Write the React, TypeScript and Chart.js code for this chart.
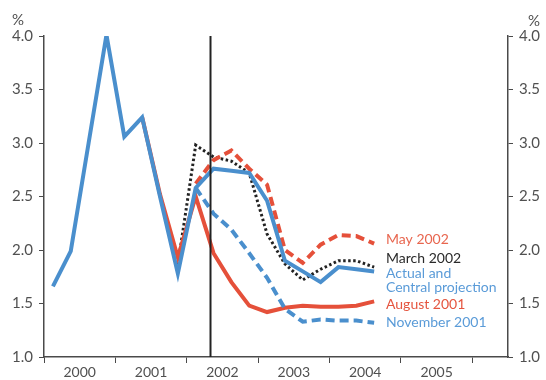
import React, { useEffect, useRef } from 'react';
import { Chart, registerables } from 'chart.js';

Chart.register(...registerables);

// 26 quarterly slots: 2000 Q1 ... 2006 Q2
const QUARTERS = [
  '2000Q1', '2000Q2', '2000Q3', '2000Q4',
  '2001Q1', '2001Q2', '2001Q3', '2001Q4',
  '2002Q1', '2002Q2', '2002Q3', '2002Q4',
  '2003Q1', '2003Q2', '2003Q3', '2003Q4',
  '2004Q1', '2004Q2', '2004Q3', '2004Q4',
  '2005Q1', '2005Q2', '2005Q3', '2005Q4',
  '2006Q1', '2006Q2',
];
const YEARS = ['2000', '2001', '2002', '2003', '2004', '2005'];
const Y_MIN = 1.0;
const Y_MAX = 4.0;
const Y_STEP = 0.5;

const ACTUAL_CENTRAL = [
  1.66, 1.99, 3.0, 4.01,
  3.06, 3.24, 2.5, 1.78,
  2.58, 2.76, 2.74, 2.72,
  2.46, 1.9, 1.8, 1.7,
  1.84, 1.82, 1.8,
];
const AUGUST_2001 = [
  null, null, null, null,
  null, 3.24, 2.52, 1.93,
  2.5, 1.97, 1.7, 1.48,
  1.42, 1.46, 1.48, 1.47,
  1.47, 1.48, 1.52,
];
const NOVEMBER_2001 = [
  null, null, null, null,
  null, null, null, null,
  2.58, 2.34, 2.19, 1.97,
  1.74, 1.45, 1.33, 1.35,
  1.34, 1.34, 1.32,
];
const MARCH_2002 = [
  null, null, null, null,
  null, null, null, 1.86,
  2.98, 2.87, 2.83, 2.72,
  2.15, 1.87, 1.72, 1.82,
  1.9, 1.9, 1.84,
];
const MAY_2002 = [
  null, null, null, null,
  null, null, null, null,
  2.62, 2.84, 2.93, 2.76,
  2.61, 2.0, 1.88, 2.05,
  2.14, 2.13, 2.06,
];
// Time of the May 2002 projection (in quarter units from 2000 Q1 start)
const MARKER_X = 9.33;

const BLUE = '#4a8fcd';
const RED = '#e5503a';
const BLACK = '#222222';
const AXIS = '#4a4a4a';
const TEXT = '#505050';
const FONT = 'Lato, "Open Sans", sans-serif';

const LEGEND = [
  { lines: ['May 2002'], color: '#e8664f' },
  { lines: ['March 2002'], color: '#2a2a2a' },
  { lines: ['Actual and', 'Central projection'], color: '#5a9bd8' },
  { lines: ['August 2001'], color: '#e5553f' },
  { lines: ['November 2001'], color: '#5a9bd8' },
];

const toPoints = (arr: (number | null)[]) =>
  arr.map((v, i) => ({ x: i + 0.5, y: v }));

const overlayPlugin = {
  id: 'overlay',
  afterDatasetsDraw(chart: any) {
    const { ctx, chartArea, scales } = chart;
    const x = scales.x.getPixelForValue(MARKER_X);
    ctx.save();
    ctx.strokeStyle = BLACK;
    ctx.lineWidth = 2;
    ctx.beginPath();
    ctx.moveTo(x, chartArea.top);
    ctx.lineTo(x, chartArea.bottom);
    ctx.stroke();
    ctx.restore();
  },
  afterDraw(chart: any) {
    const { ctx } = chart;
    ctx.save();
    ctx.font = `15px ${FONT}`;
    ctx.fillStyle = TEXT;
    ctx.textBaseline = 'middle';
    ctx.textAlign = 'left';
    ctx.fillText('%', 12, 20);
    ctx.fillText('%', 528, 21);
    // legend labels
    ctx.font = `14px ${FONT}`;
    const rows = [239, 258, 273, 287, 304, 322];
    let r = 0;
    LEGEND.forEach((item) => {
      ctx.fillStyle = item.color;
      item.lines.forEach((line) => {
        ctx.fillText(line, 386, rows[r]);
        r++;
      });
    });
    ctx.restore();
  },
};

export default function App() {
  const ref = useRef<HTMLCanvasElement | null>(null);

  useEffect(() => {
    document.body.style.margin = '0';
    const canvas = ref.current;
    if (!canvas) return;
    const tickValues = [] as number[];
    for (let v = 0; v <= 24; v += 2) tickValues.push(v);

    const yTicks = {
      stepSize: Y_STEP,
      color: TEXT,
      font: { family: FONT, size: 15 },
      callback: (v: any) => Number(v).toFixed(1),
    };

    const chart = new Chart(canvas, {
      type: 'line',
      data: {
        datasets: [
          {
            label: 'Actual and Central projection',
            data: toPoints(ACTUAL_CENTRAL),
            borderColor: BLUE,
            borderWidth: 4,
          },
          {
            label: 'May 2002',
            data: toPoints(MAY_2002),
            borderColor: RED,
            borderWidth: 4,
            borderDash: [9, 5],
          },
          {
            label: 'November 2001',
            data: toPoints(NOVEMBER_2001),
            borderColor: BLUE,
            borderWidth: 4,
            borderDash: [9, 5],
          },
          {
            label: 'August 2001',
            data: toPoints(AUGUST_2001),
            borderColor: RED,
            borderWidth: 4,
          },
          {
            label: 'March 2002',
            data: toPoints(MARCH_2002),
            borderColor: BLACK,
            borderWidth: 3,
            borderDash: [2.5, 2.5],
          },
        ].map((d) => ({
          ...d,
          pointRadius: 0,
          fill: false,
          tension: 0,
          spanGaps: false,
          borderJoinStyle: 'miter' as const,
        })),
      },
      options: {
        animation: false,
        responsive: false,
        layout: { padding: { top: 36, left: 0, right: 0, bottom: 0 } },
        plugins: {
          legend: { display: false },
          tooltip: { enabled: false },
        },
        scales: {
          x: {
            type: 'linear',
            min: 0,
            max: QUARTERS.length,
            afterBuildTicks: (scale: any) => {
              scale.ticks = tickValues.map((v) => ({ value: v }));
            },
            afterFit: (scale: any) => {
              scale.height = 23;
            },
            ticks: {
              autoSkip: false,
              maxRotation: 0,
              padding: 1,
              color: TEXT,
              font: { family: FONT, size: 14 },
              callback: (v: any) => (Number(v) % 4 === 2 ? YEARS[(Number(v) - 2) / 4] : ''),
            },
            grid: {
              drawOnChartArea: false,
              tickLength: 6,
              tickColor: (ctx: any) =>
                ctx.tick && ctx.tick.value % 4 === 0 ? AXIS : 'rgba(0,0,0,0)',
            },
            border: { color: AXIS, width: 1.5 },
          },
          y: {
            position: 'left',
            min: Y_MIN,
            max: Y_MAX,
            afterFit: (scale: any) => {
              scale.width = 44;
            },
            ticks: { ...yTicks, padding: 6 },
            grid: { drawOnChartArea: false, tickLength: 5, tickColor: AXIS },
            border: { color: AXIS, width: 1.5 },
          },
          y2: {
            position: 'right',
            min: Y_MIN,
            max: Y_MAX,
            afterFit: (scale: any) => {
              scale.width = 38;
            },
            ticks: { ...yTicks, padding: 6 },
            grid: { drawOnChartArea: false, tickLength: 5, tickColor: AXIS },
            border: { color: AXIS, width: 1.5 },
          },
        },
      } as any,
      plugins: [overlayPlugin],
    });
    return () => chart.destroy();
  }, []);

  return (
    <div style={{ position: 'absolute', left: 0, top: 0, width: 546, height: 380 }}>
      <canvas ref={ref} width={546} height={380} style={{ width: 546, height: 380 }} />
    </div>
  );
}
